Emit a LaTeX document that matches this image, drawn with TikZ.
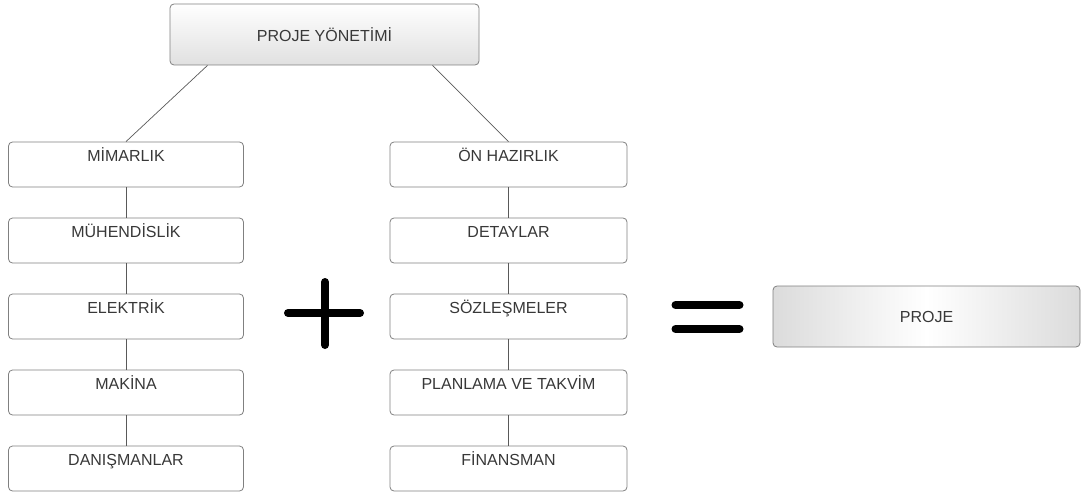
\documentclass[tikz,border=0pt]{standalone}
\usepackage{fontspec}
\setmainfont{Liberation Sans}
\begin{document}
\begin{tikzpicture}[x=1pt,y=-1pt,
  txt/.style={text=black!78, font=\fontsize{16}{19}\selectfont},
  box/.style={draw=black!50, line width=0.8pt, rounded corners=4pt, fill=white,
    minimum width=235pt, minimum height=45pt, inner sep=0pt},
  lbl/.style={txt, anchor=base, yshift=-20pt, inner sep=0pt},
  link/.style={draw=black!65, line width=0.7pt},
  bigsym/.style={line width=8pt, line cap=round, draw=black}
]
\useasboundingbox (0,0) rectangle (1082,495);

% top box
\node[draw=black!50, line width=0.8pt, rounded corners=4pt,
  top color=white, bottom color=black!12, minimum width=309pt, minimum height=61pt,
  inner sep=0pt, txt] (pm) at (324.5,34.5) {PROJE YÖNETİMİ};

% left column
\foreach \n/\t [count=\i from 0] in {a1/MİMARLIK, a2/MÜHENDİSLİK, a3/ELEKTRİK, a4/MAKİNA, a5/DANIŞMANLAR}{
  \node[box, label={[lbl]north:\t}] (\n) at (126,164.5+76*\i) {};
}
% right column
\foreach \n/\t [count=\i from 0] in {b1/ÖN HAZIRLIK, b2/DETAYLAR, b3/SÖZLEŞMELER, b4/PLANLAMA VE TAKVİM, b5/FİNANSMAN}{
  \node[box, minimum width=237pt, label={[lbl]north:\t}] (\n) at (508.5,164.5+76*\i) {};
}

% connectors
\draw[link] ([xshift=-117pt]pm.south) -- (a1.north);
\draw[link] ([xshift=108pt]pm.south) -- (b1.north);
\foreach \p/\q in {a1/a2, a2/a3, a3/a4, a4/a5, b1/b2, b2/b3, b3/b4, b4/b5}{
  \draw[link] (\p.south) -- (\q.north);
}

% plus sign
\coordinate (pl) at (325,313);
\draw[bigsym] ([xshift=-37pt]pl) -- ([xshift=35pt]pl);
\draw[bigsym] ([yshift=31pt]pl) -- ([yshift=-32pt]pl);

% equals sign
\coordinate (eq) at (707.5,317);
\draw[bigsym] ([xshift=-32pt,yshift=12pt]eq) -- ([xshift=32pt,yshift=12pt]eq);
\draw[bigsym] ([xshift=-32pt,yshift=-12pt]eq) -- ([xshift=32pt,yshift=-12pt]eq);

% result box
\node[draw=black!50, line width=0.8pt, rounded corners=4pt,
  left color=black!14, right color=black!14, middle color=white,
  minimum width=307pt, minimum height=61pt, inner sep=0pt, txt] (pr) at (926.5,316.5) {PROJE};
\end{tikzpicture}
\end{document}
